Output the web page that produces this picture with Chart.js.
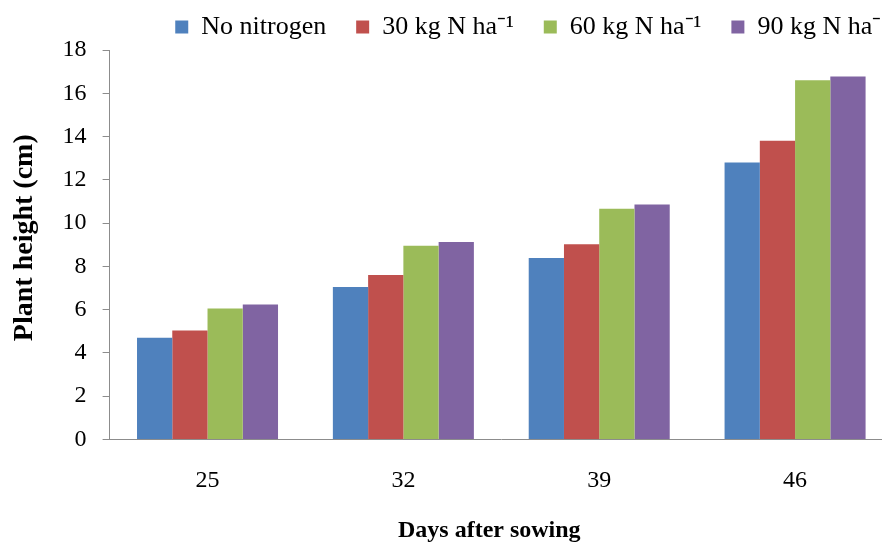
<!DOCTYPE html>
<html>
<head>
<meta charset="utf-8">
<script src="https://cdn.jsdelivr.net/npm/chart.js@4"></script>
<style>
  html, body { margin: 0; padding: 0; background: #fff; overflow: hidden; }
  #wrap { width: 895px; height: 542px; }
</style>
</head>
<body>
<div id="wrap"><canvas id="chart1" width="895" height="542"></canvas></div>
<script>
// datos
var days = ['25', '32', '39', '46'];
var noNitrogen = [4.7, 7.05, 8.38, 12.8];
var n30 = [5.03, 7.6, 9.02, 13.8];
var n60 = [6.05, 8.95, 10.66, 16.6];
var n90 = [6.23, 9.13, 10.86, 16.78];
var yTicks = [0, 2, 4, 6, 8, 10, 12, 14, 16, 18];

var serif = "'Liberation Serif', 'Times New Roman', serif";
var axisGray = '#8c8c8c';

// la leyenda queda pegada al borde derecho como en el original
var legendShift = {
  id: 'legendShift',
  afterLayout: function (chart) {
    chart.legend.left += 26;
    chart.legend.right += 26;
  }
};

var ctx1 = document.getElementById('chart1').getContext('2d');
var chart1 = new Chart(ctx1, {
  type: 'bar',
  data: {
    labels: days,
    datasets: [
      { label: 'No nitrogen', data: noNitrogen, backgroundColor: '#4F81BD' },
      { label: '30 kg N ha\u207B\u00B9', data: n30, backgroundColor: '#C0504D' },
      { label: '60 kg N ha\u207B\u00B9', data: n60, backgroundColor: '#9BBB59' },
      { label: '90 kg N ha\u207B\u00B9', data: n90, backgroundColor: '#8064A2' }
    ]
  },
  plugins: [legendShift],
  options: {
    responsive: false,
    animation: false,
    layout: { padding: { left: 8, right: 2, top: -16, bottom: -3 } },
    datasets: {
      bar: { categoryPercentage: 0.72, barPercentage: 1.0, borderWidth: 0 }
    },
    plugins: {
      legend: {
        position: 'top',
        align: 'end',
        labels: {
          boxWidth: 13,
          boxHeight: 13,
          padding: 30,
          color: '#000',
          font: { family: serif, size: 26 }
        }
      },
      tooltip: { enabled: false }
    },
    scales: {
      x: {
        grid: { display: false },
        border: { color: axisGray, width: 1 },
        ticks: { color: '#000', padding: 19, font: { family: serif, size: 24 } },
        title: {
          display: true,
          // espacios al final para correr el titulo un poco a la izquierda
          text: 'Days after sowing\u00A0\u00A0\u00A0\u00A0',
          color: '#000',
          padding: { top: 2, bottom: 0 },
          font: { family: serif, size: 24, weight: 'bold' }
        }
      },
      y: {
        min: 0,
        max: 18,
        afterBuildTicks: function (axis) {
          axis.ticks = yTicks.map(function (v) { return { value: v }; });
        },
        grid: { drawOnChartArea: false, drawTicks: true, tickLength: 7, color: axisGray },
        border: { color: axisGray, width: 1 },
        ticks: { color: '#000', padding: 16, font: { family: serif, size: 24 } },
        title: {
          display: true,
          text: '\u00A0\u00A0Plant height (cm)',
          color: '#000',
          padding: { top: 0, bottom: 5 },
          font: { family: serif, size: 28, weight: 'bold' }
        }
      }
    }
  }
});
</script>
</body>
</html>
